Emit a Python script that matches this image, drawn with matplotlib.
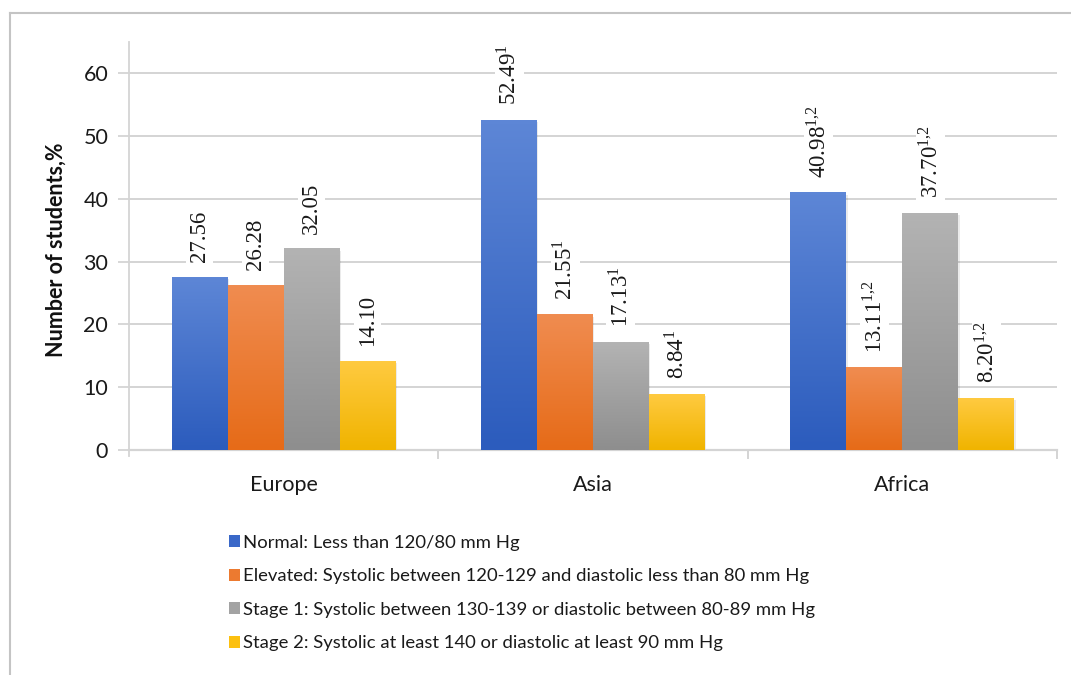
import numpy as np
import matplotlib.pyplot as plt
from matplotlib.colors import LinearSegmentedColormap
from matplotlib.patches import Patch
from matplotlib.lines import Line2D

regions = ["Europe", "Asia", "Africa"]
categories = [
    "Normal: Less than 120/80 mm Hg",
    "Elevated: Systolic between 120-129 and diastolic less than 80 mm Hg",
    "Stage 1: Systolic between 130-139 or diastolic between 80-89 mm Hg",
    "Stage 2: Systolic at least 140 or diastolic at least 90 mm Hg",
]
normal = [27.56, 52.49, 40.98]
elevated = [26.28, 21.55, 13.11]
stage1 = [32.05, 17.13, 37.70]
stage2 = [14.10, 8.84, 8.20]
# significance marks printed as superscripts next to the values
normal_sig = ["", "1", "1{,}2"]
elevated_sig = ["", "1", "1{,}2"]
stage1_sig = ["", "1", "1{,}2"]
stage2_sig = ["", "1", "1{,}2"]

series = [normal, elevated, stage1, stage2]
marks = [normal_sig, elevated_sig, stage1_sig, stage2_sig]
# (top colour, bottom colour, legend colour)
shades = [
    ("#5d86d6", "#2c5cbd", "#3a68c8"),
    ("#f08c50", "#e66b18", "#ec7a30"),
    ("#b3b3b3", "#8e8e8e", "#a3a3a3"),
    ("#ffca40", "#f0b400", "#fcc010"),
]

plt.rcParams['font.family'] = ['Lato', 'DejaVu Sans']
plt.rcParams['mathtext.fontset'] = 'stix'

fig = plt.figure(figsize=(10.71, 6.75), dpi=100)
W, H = 1071, 675
ax = fig.add_axes([129 / W, 1 - 450 / H, (1057 - 129) / W, (450 - 42) / H])

bar_w = 0.181
x = np.arange(len(regions)) + 0.5
grid_c = "#d4d4d4"

for i, (vals, sig, (top, bottom, _)) in enumerate(zip(series, marks, shades)):
    cmap = LinearSegmentedColormap.from_list("g%d" % i, [bottom, top])
    grad = np.linspace(0, 1, 64).reshape(-1, 1)
    for xc, v, s in zip(x, vals, sig):
        x0 = xc + (i - 2) * bar_w
        # faint drop shadow
        ax.bar(x0 + 0.004, v, bar_w, bottom=-0.3, align='edge',
               color="#000000", alpha=0.08, zorder=2, lw=0)
        ax.imshow(grad, cmap=cmap, origin='lower', aspect='auto',
                  extent=(x0, x0 + bar_w, 0, v), zorder=3,
                  interpolation='bilinear')
        txt = "%.2f" % v
        if s:
            txt += r"$^{\mathregular{%s}}$" % s
        ax.text(x0 + bar_w / 2, v + 2.4, txt, rotation=90, ha='center',
                va='bottom', fontsize=16.5, family='Liberation Serif',
                color="#1a1a1a", zorder=4,
                bbox=dict(boxstyle='square,pad=0.12', fc='white', ec='none'))

ax.set_xlim(0, 3)
ax.set_ylim(0, 65)
ax.set_yticks(range(0, 61, 10))
ax.set_xticks(x)
ax.set_xticklabels(regions, fontsize=15.5, color="#1a1a1a")
ax.tick_params(axis='y', labelsize=15.5, colors="#1a1a1a", length=8,
               color=grid_c, width=1.3, pad=7)
ax.tick_params(axis='x', length=0, pad=18)
for yv in range(10, 61, 10):
    ax.axhline(yv, color=grid_c, lw=1.4, zorder=1)

for side in ['top', 'right']:
    ax.spines[side].set_visible(False)
ax.spines['left'].set_color(grid_c)
ax.spines['left'].set_linewidth(1.3)
ax.spines['left'].set_bounds(-0.9, 65)
ax.spines['bottom'].set_color(grid_c)
ax.spines['bottom'].set_linewidth(1.6)
# category boundary ticks below the x axis
for xb in range(1, 4):
    ax.plot([xb, xb], [0, -1.2], color=grid_c, lw=1.4, clip_on=False)

ax.set_ylabel("Number of students,%", fontsize=15.5, fontweight='bold',
              color="#111111")
ax.yaxis.set_label_coords(-62 / (1057 - 129), 0.49)

handles = [Patch(facecolor=c[2], edgecolor='none') for c in shades]
leg = fig.legend(handles, categories, loc='upper left',
                 bbox_to_anchor=(212 / W, 1 - 518 / H), frameon=False,
                 fontsize=13.3, handlelength=0.6, handleheight=0.6,
                 handletextpad=0.2, labelspacing=0.95)
for t in leg.get_texts():
    t.set_color("#1a1a1a")

# outer chart border
fig.add_artist(Line2D([10 / W, 1], [1 - 13 / H, 1 - 13 / H], color="#c4c4c4", lw=1.5))
fig.add_artist(Line2D([10 / W, 10 / W], [0, 1 - 13 / H], color="#c4c4c4", lw=1.5))

fig.savefig("out.png", dpi=100)
